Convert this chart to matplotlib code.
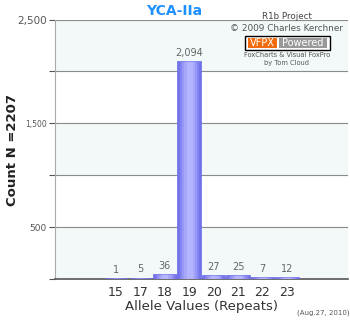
import numpy as np
import matplotlib.pyplot as plt

# data
alleles = ["15", "17", "18", "19", "20", "21", "22", "23"]
counts = [1, 5, 36, 2094, 27, 25, 7, 12]
ytick_vals = [500, 1500, 2500]
ytick_text = ["500", "1,500", "2,500"]

fig = plt.figure(figsize=(3.5, 3.2), dpi=100)
ax = fig.add_axes([0.157, 0.128, 0.837, 0.811])

x = np.arange(len(alleles))
ax.set_xlim(-2.5, len(alleles) - 1 + 2.5)
ax.set_ylim(0, 2500)

# alternating bands + grid
for lo in range(0, 2500, 1000):
    ax.axhspan(lo, lo + 500, color="#f3f8f8", zorder=0)
for g in range(500, 2501, 500):
    ax.axhline(g, color="#8a8a8a", lw=0.8, zorder=1)

# bars with a fake cylinder shading
ax.bar(x, counts, width=0.88, color="#7272ea", edgecolor="#7272ea",
       linewidth=2.0, zorder=3)
shades = ["#8484f0", "#9696f6", "#a6a6fb", "#b4b4ff"]
widths = [0.72, 0.56, 0.40, 0.22]
for c, w in zip(shades, widths):
    ax.bar(x, counts, width=w, color=c, edgecolor=c, linewidth=1.0, zorder=3)

for xi, v in zip(x, counts):
    ax.text(xi, v + 40, f"{v:,}", ha="center", va="bottom", fontsize=7,
            color="#666666", zorder=4)

ax.set_xticks(x)
ax.set_xticklabels(alleles, fontsize=9, color="#333333")
ax.tick_params(axis="x", length=0, pad=5)
ax.set_yticks(range(0, 2501, 500))
labels = []
for t in range(0, 2501, 500):
    labels.append(ytick_text[ytick_vals.index(t)] if t in ytick_vals else "")
ax.set_yticklabels(labels, color="#555555")
for lab, t in zip(ax.get_yticklabels(), range(0, 2501, 500)):
    lab.set_fontsize({2500: 7.5, 1500: 5.5, 500: 6.5}.get(t, 6))
ax.tick_params(axis="y", length=4, width=0.8, color="#555555", pad=2)

for s in ["top", "right"]:
    ax.spines[s].set_visible(False)
ax.spines["left"].set_color("#aaaaaa")
ax.spines["bottom"].set_color("#555555")
ax.spines["bottom"].set_linewidth(1.2)

ax.set_xlabel("Allele Values (Repeats)", fontsize=9.5, color="#333333", labelpad=1)
fig.text(0.036, 0.53, "Count N =2207", rotation=90, ha="center", va="center",
         fontsize=9.5, fontweight="bold", color="#222222")
fig.text(0.497, 0.966, "YCA-IIa", ha="center", va="center", fontsize=10,
         fontweight="bold", color="#1e90ff")
fig.text(0.998, 0.022, "(Aug.27, 2010)", ha="right", va="center", fontsize=5,
         color="#555555")

# watermark block
fig.text(0.82, 0.948, "R1b Project", ha="center", va="center", fontsize=6.3,
         color="#444444")
fig.text(0.82, 0.912, "\u00a9 2009 Charles Kerchner", ha="center", va="center",
         fontsize=6.4, color="#555555")
tf = fig.transFigure
fig.patches.append(plt.Rectangle((0.700, 0.844), 0.243, 0.044, transform=tf,
                                 fc="white", ec="black", lw=1.0, zorder=2))
fig.patches.append(plt.Rectangle((0.709, 0.850), 0.083, 0.032, transform=tf,
                                 fc="#f26c0d", ec="none", zorder=2))
fig.patches.append(plt.Rectangle((0.797, 0.850), 0.138, 0.032, transform=tf,
                                 fc="#999999", ec="none", zorder=2))
fig.text(0.750, 0.865, "VFPX", ha="center", va="center", fontsize=7,
         color="white", zorder=5)
fig.text(0.866, 0.865, "Powered", ha="center", va="center", fontsize=7,
         color="white", zorder=5)
fig.text(0.82, 0.828, "FoxCharts & Visual FoxPro", ha="center", va="center",
         fontsize=4.8, color="#555555")
fig.text(0.82, 0.802, "by Tom Cloud", ha="center", va="center", fontsize=4.8,
         color="#555555")

fig.savefig("out.png", dpi=100)
